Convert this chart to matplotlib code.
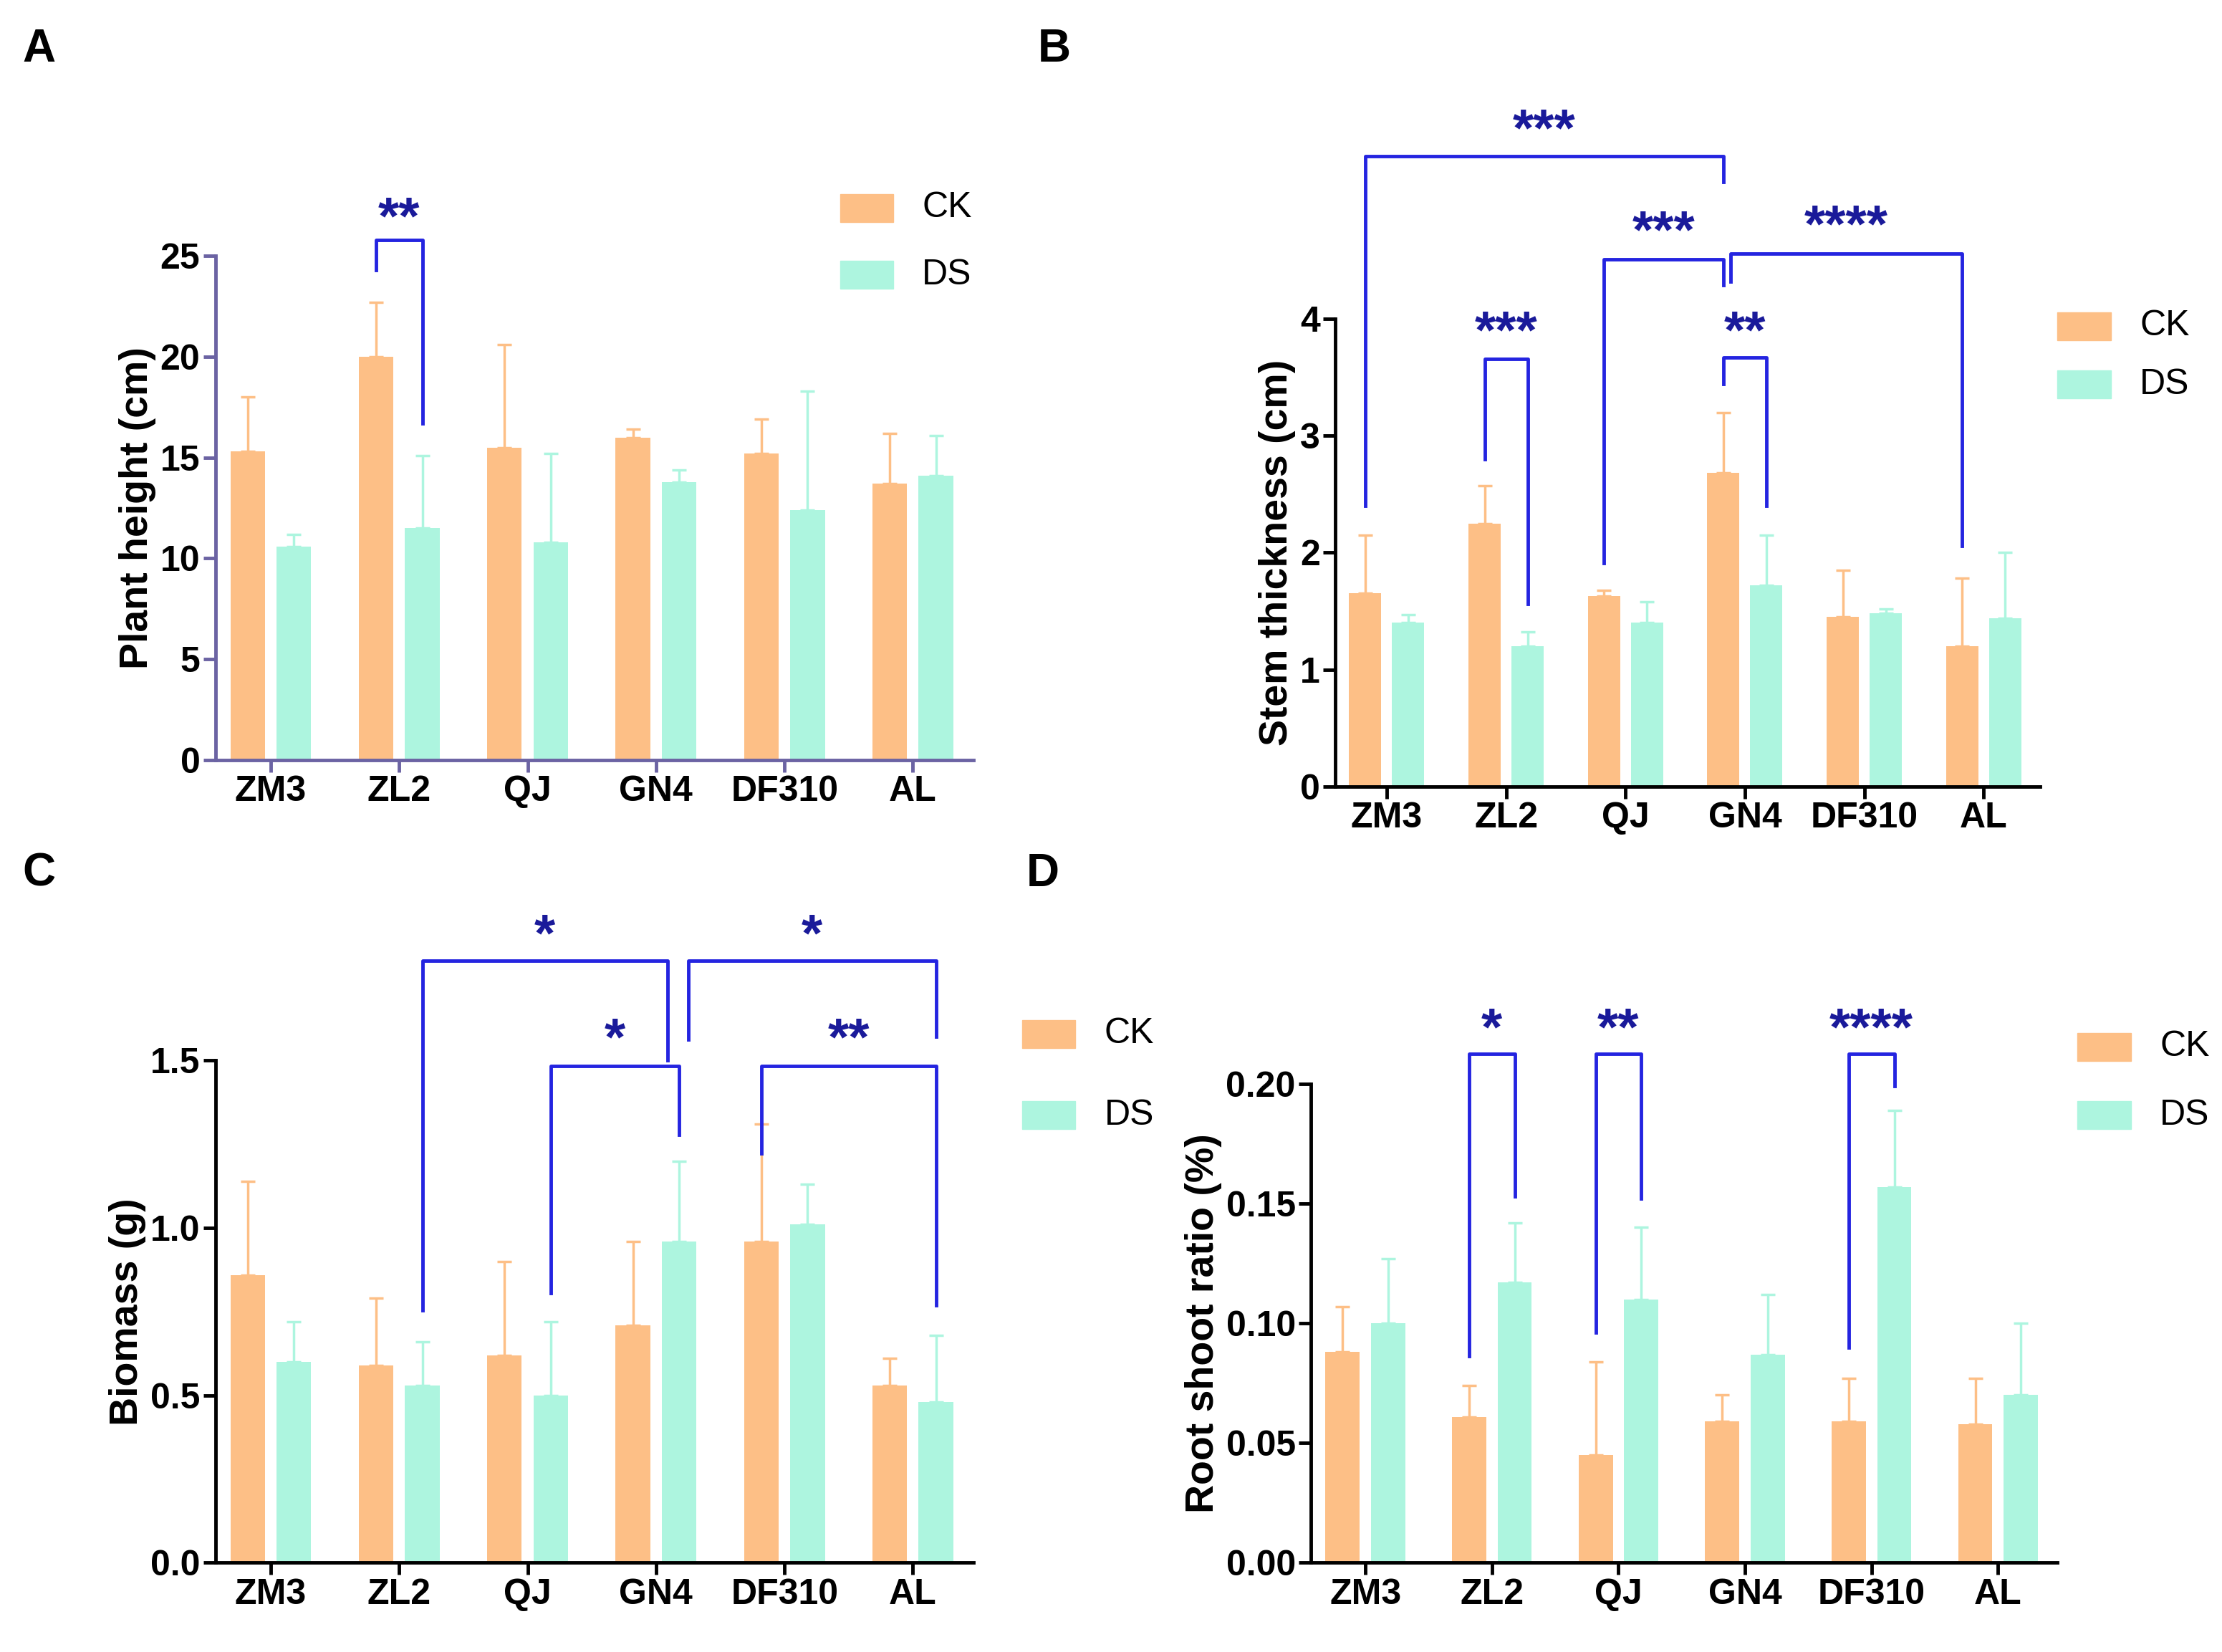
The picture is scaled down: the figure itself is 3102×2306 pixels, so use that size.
import matplotlib
matplotlib.use("Agg")
import matplotlib.pyplot as plt
from matplotlib.patches import Rectangle
import numpy as np

plt.rcParams['font.family'] = ['Liberation Sans', 'DejaVu Sans']
plt.rcParams['font.weight'] = 'bold'

cats = ["ZM3", "ZL2", "QJ", "GN4", "DF310", "AL"]
A_ck = [15.3, 20.0, 15.5, 16.0, 15.2, 13.7]; A_ck_top = [18.0, 22.7, 20.6, 16.4, 16.9, 16.2]
A_ds = [10.6, 11.5, 10.8, 13.8, 12.4, 14.1]; A_ds_top = [11.2, 15.1, 15.2, 14.4, 18.3, 16.1]
B_ck = [1.65, 2.25, 1.63, 2.68, 1.45, 1.20]; B_ck_top = [2.15, 2.57, 1.68, 3.20, 1.85, 1.78]
B_ds = [1.40, 1.20, 1.40, 1.72, 1.48, 1.44]; B_ds_top = [1.47, 1.32, 1.58, 2.15, 1.52, 2.00]
C_ck = [0.86, 0.59, 0.62, 0.71, 0.96, 0.53]; C_ck_top = [1.14, 0.79, 0.90, 0.96, 1.31, 0.61]
C_ds = [0.60, 0.53, 0.50, 0.96, 1.01, 0.48]; C_ds_top = [0.72, 0.66, 0.72, 1.20, 1.13, 0.68]
D_ck = [0.088, 0.061, 0.045, 0.059, 0.059, 0.058]; D_ck_top = [0.107, 0.074, 0.084, 0.070, 0.077, 0.077]
D_ds = [0.100, 0.117, 0.110, 0.087, 0.157, 0.070]; D_ds_top = [0.127, 0.142, 0.140, 0.112, 0.189, 0.100]

CK = "#FDBF86"; DS = "#ADF5DF"; BR = "#2424E0"; ST = "#1A1A9A"
W = 0.27; OFF = 0.18

fig = plt.figure(figsize=(31.02, 23.06), dpi=100)

def panel(rect, ck, ckt, ds, dst, ylim, yticks, ytl, ylabel, axcol, xlim):
    ax = fig.add_axes(rect)
    x = np.arange(len(cats))
    ax.bar(x - OFF, ck, W, color=CK)
    ax.bar(x + OFF, ds, W, color=DS)
    ax.errorbar(x - OFF, ck, yerr=[np.zeros(6), np.array(ckt) - np.array(ck)], fmt='none', ecolor=CK, elinewidth=2.5, capsize=7, capthick=2.5)
    ax.errorbar(x + OFF, ds, yerr=[np.zeros(6), np.array(dst) - np.array(ds)], fmt='none', ecolor=DS, elinewidth=2.5, capsize=7, capthick=2.5)
    ax.set_ylim(*ylim); ax.set_xlim(*xlim)
    ax.set_yticks(yticks); ax.set_yticklabels(ytl, fontsize=36, fontweight='bold')
    ax.set_xticks(x); ax.set_xticklabels(cats, fontsize=36, fontweight='bold')
    ax.set_ylabel(ylabel, fontsize=40, fontweight='bold')
    for s in ['top', 'right']:
        ax.spines[s].set_visible(False)
    for s in ['left', 'bottom']:
        ax.spines[s].set_linewidth(3.5); ax.spines[s].set_color(axcol)
    ax.tick_params(width=3.5, length=12, color=axcol)
    return ax

def bracket(ax, x1, y1, x2, y2, ytop, stars, ys):
    ax.plot([x1, x1, x2, x2], [y1, ytop, ytop, y2], color=BR, lw=3.5, clip_on=False)
    ax.text((x1 + x2) / 2, ys, stars, ha='center', va='center', fontsize=54, color=ST, fontweight='bold', clip_on=False)

xl = (-0.43, 5.47)
axA = panel([0.097, 0.540, 0.341, 0.305], A_ck, A_ck_top, A_ds, A_ds_top, (0, 25), [0, 5, 10, 15, 20, 25], ["0", "5", "10", "15", "20", "25"], "Plant height (cm)", "#6B63A3", xl)
bracket(axA, 1 - OFF, 24.3, 1 + OFF, 16.7, 25.8, "**", 26.8)

axB = panel([0.601, 0.524, 0.317, 0.283], B_ck, B_ck_top, B_ds, B_ds_top, (0, 4), [0, 1, 2, 3, 4], ["0", "1", "2", "3", "4"], "Stem thickness (cm)", "black", xl)
bracket(axB, 0 - OFF, 2.4, 3 - OFF, 5.17, 5.39, "***", 5.60)
bracket(axB, 1 - OFF, 2.8, 1 + OFF, 1.56, 3.66, "***", 3.87)
bracket(axB, 2 - OFF, 1.91, 3 - OFF, 4.29, 4.51, "***", 4.73)
bracket(axB, 3 - OFF + 0.06, 4.32, 5 - OFF, 2.06, 4.56, "****", 4.78)
bracket(axB, 3 - OFF, 3.44, 3 + OFF, 2.4, 3.67, "**", 3.87)

axC = panel([0.097, 0.054, 0.341, 0.304], C_ck, C_ck_top, C_ds, C_ds_top, (0, 1.5), [0, 0.5, 1.0, 1.5], ["0.0", "0.5", "1.0", "1.5"], "Biomass (g)", "black", xl)
bracket(axC, 1 + OFF, 0.754, 3 + OFF - 0.09, 1.5, 1.798, "*", 1.87)
bracket(axC, 2 + OFF, 0.805, 3 + OFF, 1.278, 1.483, "*", 1.56)
bracket(axC, 3 + OFF + 0.07, 1.564, 5 + OFF, 1.572, 1.798, "*", 1.87)
bracket(axC, 4 - OFF, 1.223, 5 + OFF, 0.77, 1.483, "**", 1.56)

axD = panel([0.590, 0.054, 0.336, 0.290], D_ck, D_ck_top, D_ds, D_ds_top, (0, 0.2), [0, 0.05, 0.10, 0.15, 0.20], ["0.00", "0.05", "0.10", "0.15", "0.20"], "Root shoot ratio (%)", "black", xl)
bracket(axD, 1 - OFF, 0.0863, 1 + OFF, 0.153, 0.2125, "*", 0.222)
bracket(axD, 2 - OFF, 0.096, 2 + OFF, 0.152, 0.2125, "**", 0.222)
bracket(axD, 4 - OFF, 0.090, 4 + OFF, 0.199, 0.2125, "****", 0.222)

def legend(xp, y1, y2):
    for y, c, t in [(y1, CK, "CK"), (y2, DS, "DS")]:
        fig.patches.append(Rectangle((xp, y - 0.0085), 0.024, 0.017, transform=fig.transFigure, color=c))
        fig.text(xp + 0.037, y, t, fontsize=36, fontweight='normal', va='center', ha='left')

legend(0.378, 1 - 146 / 1160, 1 - 193 / 1160)
legend(0.926, 1 - 229 / 1160, 1 - 270 / 1160)
legend(0.460, 1 - 726 / 1160, 1 - 783 / 1160)
legend(0.935, 1 - 735 / 1160, 1 - 783 / 1160)

for lab, x, y in [("A", 0.010, 0.970), ("B", 0.467, 0.970), ("C", 0.010, 0.471), ("D", 0.462, 0.471)]:
    fig.text(x, y, lab, fontsize=46, fontweight='bold', va='center')

fig.savefig("out.png", dpi=100)
